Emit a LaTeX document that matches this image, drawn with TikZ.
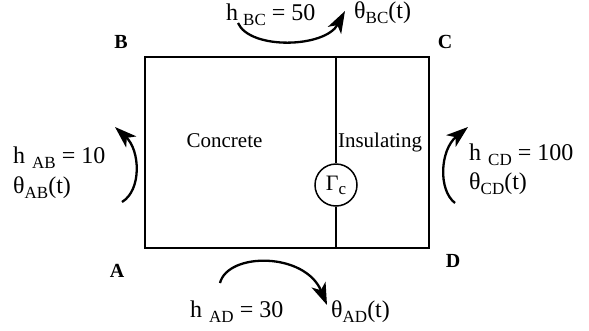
\documentclass[tikz,border=0pt]{standalone}
\usepackage{fontspec}
\setmainfont{Liberation Serif}
\usetikzlibrary{arrows.meta}
\newcommand{\sbs}[1]{\raisebox{-5pt}{\fontsize{17}{17}\selectfont #1}}
\begin{document}
\begin{tikzpicture}[x=1pt,y=-1pt,
  lbl/.style={font=\fontsize{24}{24}\selectfont, inner sep=0pt, anchor=base west},
  mat/.style={font=\fontsize{21}{21}\selectfont, inner sep=0pt, anchor=base},
  cornerlbl/.style={font=\fontsize{20}{20}\selectfont\bfseries, inner sep=0pt},
  flux/.style={line width=2.3pt, -{Stealth[length=22pt,width=15pt,inset=6pt]}},
  wall/.style={line width=1.8pt},
  divider/.style={line width=1.3pt}]
\useasboundingbox (0,0) rectangle (589,330);
% corners
\coordinate (A) at (145,248);
\coordinate (B) at (145,57);
\coordinate (C) at (429,57);
\coordinate (D) at (429,248);
\draw[wall] (A) -- (B) -- (C) -- (D) -- cycle;
% divider and Gamma_c
\coordinate (dtop) at (336,57);
\coordinate (dbot) at (336,248);
\node[draw, circle, line width=1.5pt, minimum size=42pt, inner sep=0pt, font=\fontsize{22}{22}\selectfont] (gamma) at (336,185) {Γ\raisebox{-4pt}{\fontsize{17}{17}\selectfont c}};
\draw[divider] (dtop) -- (gamma.north);
\draw[divider] (gamma.south) -- (dbot);
% corner letters
\node[cornerlbl] (la) at (117,271) {A};
\node[cornerlbl] (lb) at (121,42) {B};
\node[cornerlbl] (lc) at (445,42) {C};
\node[cornerlbl] (ld) at (453,261) {D};
% materials
\node[mat] (conc) at (224.5,147) {Concrete};
\node[mat] (insu) at (380,147) {Insulating};
% labels
\node[lbl] (hbc) at (226,20) {h\hspace{5pt}\sbs{BC} = 50};
\node[lbl] (tbc) at (354,18) {θ\sbs{BC}(t)};
\node[lbl] (hab) at (13,163) {h\hspace{7pt}\sbs{AB} = 10};
\node[lbl] (tab) at (13,193) {θ\sbs{AB}(t)};
\node[lbl] (hcd) at (469,160) {h\hspace{7pt}\sbs{CD} = 100};
\node[lbl] (tcd) at (469,189) {θ\sbs{CD}(t)};
\node[lbl] (had) at (190,317) {h\hspace{7pt}\sbs{AD} = 30};
\node[lbl] (tad) at (331,317) {θ\sbs{AD}(t)};
% flux arrows
\coordinate (bcs) at (238,23);
\coordinate (bce) at (345,11);
\draw[flux] (bcs) .. controls (250,50) and (325,48) .. (bce);
\coordinate (abs) at (122,202);
\coordinate (abe) at (115,127);
\draw[flux] (abs) .. controls (142,190) and (140,150) .. (abe);
\coordinate (cds) at (455,203);
\coordinate (cde) at (468,127);
\draw[flux] (cds) .. controls (438,190) and (440,150) .. (cde);
\coordinate (ads) at (220,283);
\coordinate (ade) at (327,305);
\draw[flux] (ads) .. controls (228,252) and (305,252) .. (ade);
\end{tikzpicture}
\end{document}
